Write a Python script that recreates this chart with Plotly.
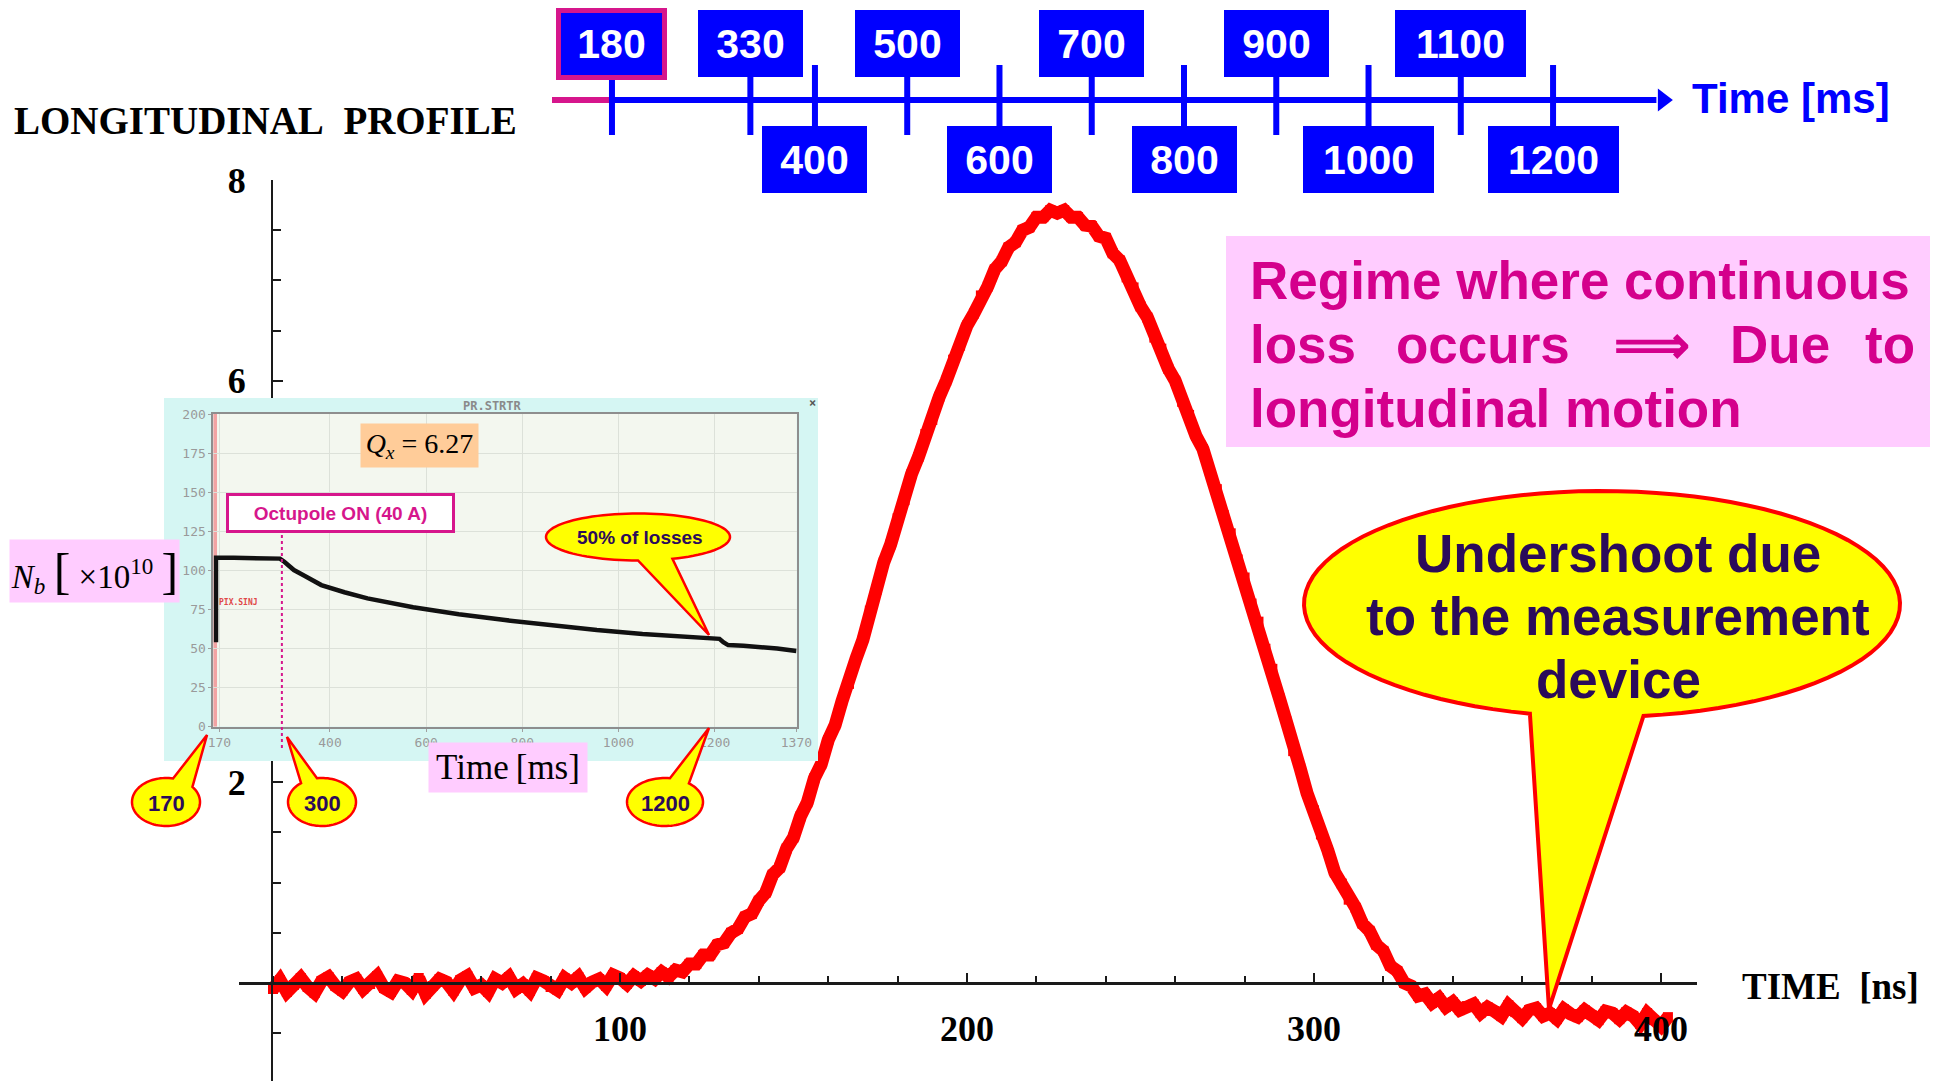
import math
import plotly.graph_objects as go

W, H = 1939, 1081

# ---------------- data ----------------
# Longitudinal bunch profile (sampled every 2 ns)
TIME_NS = list(range(0, 403, 2))
PROFILE = [
    -0.06, 0.03, -0.09, -0.02, 0.05, -0.04, -0.10, 0.02, 0.06, -0.03,
    -0.08, 0.01, 0.04, -0.06, -0.01, 0.07, -0.05, -0.09, 0.02, 0.00,
    -0.07, 0.05, -0.11, -0.03, 0.04, 0.01, -0.08, 0.03, 0.07, -0.05,
    -0.02, -0.09, 0.04, 0.00, 0.06, -0.06, -0.01, -0.08, 0.05, 0.02,
    -0.04, -0.07, 0.05, 0.00, 0.06, -0.05, 0.01, 0.04, -0.03, 0.08,
    0.05, -0.01, 0.07, 0.02, 0.08, 0.04, 0.11, 0.06, 0.13, 0.11,
    0.19, 0.19, 0.28, 0.28, 0.38, 0.40, 0.50, 0.54, 0.66, 0.69,
    0.82, 0.90, 1.08, 1.15, 1.34, 1.45, 1.66, 1.80, 2.04, 2.18,
    2.42, 2.57, 2.81, 2.98, 3.23, 3.42, 3.71, 3.92, 4.19, 4.37,
    4.63, 4.81, 5.07, 5.24, 5.47, 5.61, 5.84, 6.00, 6.21, 6.35,
    6.55, 6.67, 6.85, 6.94, 7.11, 7.19, 7.33, 7.38, 7.50, 7.53,
    7.63, 7.63, 7.70, 7.67, 7.70, 7.63, 7.63, 7.55, 7.54, 7.44,
    7.42, 7.27, 7.20, 7.03, 6.93, 6.74, 6.63, 6.43, 6.32, 6.12,
    6.00, 5.79, 5.66, 5.45, 5.32, 5.10, 4.92, 4.66, 4.48, 4.22,
    4.04, 3.78, 3.60, 3.33, 3.13, 2.84, 2.61, 2.31, 2.14, 1.89,
    1.72, 1.48, 1.32, 1.10, 0.99, 0.83, 0.75, 0.59, 0.52, 0.38,
    0.32, 0.17, 0.12, 0.00, -0.03, -0.13, -0.11, -0.20, -0.15, -0.24,
    -0.19, -0.27, -0.23, -0.21, -0.30, -0.24, -0.28, -0.33, -0.22, -0.29,
    -0.35, -0.27, -0.25, -0.33, -0.30, -0.36, -0.26, -0.31, -0.34, -0.27,
    -0.32, -0.37, -0.28, -0.30, -0.36, -0.29, -0.33, -0.41, -0.30, -0.37,
    -0.43, -0.34,
]
X_TICKS = [100, 200, 300, 400]
# the "4" label sits under the inset, so only the visible ones are labelled
Y_TICKS = [2, 6, 8]

# Beam intensity during the cycle (inset)
INSET_T = [163, 163, 200, 250, 296, 305, 325, 344, 382, 430, 478, 573, 668,
           764, 859, 955, 1050, 1146, 1200, 1210, 1218, 1228, 1260, 1291,
           1330, 1370]
INSET_N = [54, 108, 108, 107.8, 107.5, 105.5, 100.2, 97.0, 90.6, 86.0, 82.1,
           76.4, 71.9, 68.2, 64.8, 61.8, 59.3, 57.2, 56.6, 56.2, 54.0, 52.2,
           51.8, 51.2, 50.0, 48.4]
INSET_X_TICKS = [170, 400, 600, 800, 1000, 1200, 1370]
INSET_Y_TICKS = [0, 25, 50, 75, 100, 125, 150, 175, 200]
OCTUPOLE_ON_MS = 300
EVENT_MS = 161

# Timeline of the profile acquisitions
TL_UPPER = [180, 330, 500, 700, 900, 1100]
TL_LOWER = [400, 600, 800, 1000, 1200]
TL_START, TL_END, TL_ARROW = 115, 1312, 1319

# ---------------- styles ----------------
SANS = "Liberation Sans, Arial, sans-serif"
SERIF = "Liberation Serif, Times New Roman, serif"
MONO = "DejaVu Sans Mono, monospace"
RED = "#FF0000"
BLUE = "#0000FF"
MAGENTA = "#D6168C"
NAVY = "#2B0B5A"
PINK = "#FFCCFF"
YELLOW = "#FFFF00"


def px(x):
    return x / W


def py(y):
    return 1 - y / H


def callout(cx, cy, rx, ry, a1, a2, tip, lw=3, n=90):
    """Ellipse with a pointer between angles a1..a2 (degrees, screen coords)."""
    pts = []
    end = a1 + 360
    for i in range(n + 1):
        a = math.radians(a2 + (end - a2) * i / n)
        pts.append((cx + rx * math.cos(a), cy + ry * math.sin(a)))
    pts.append(tip)
    path = "M " + " L ".join(f"{px(x):.5f},{py(y):.5f}" for x, y in pts) + " Z"
    return dict(type="path", xref="paper", yref="paper", path=path,
                fillcolor=YELLOW, line=dict(color=RED, width=lw), layer="above")


def text(x, y, s, size, color="black", family=SANS, xa="center", ya="middle", **kw):
    d = dict(xref="paper", yref="paper", x=px(x), y=py(y), text=s, showarrow=False,
             xanchor=xa, yanchor=ya, font=dict(family=family, size=size, color=color))
    d.update(kw)
    return d


fig = go.Figure()

# main profile
fig.add_trace(go.Scatter(x=TIME_NS, y=PROFILE, mode="lines+markers", xaxis="x", yaxis="y",
                         line=dict(color=RED, width=13),
                         marker=dict(symbol="square", size=10, color=RED),
                         hoverinfo="skip"))
# inset frame subplot (holds only its background)
fig.add_trace(go.Scatter(x=[], y=[], xaxis="x2", yaxis="y2", hoverinfo="skip"))
# inset intensity curve
fig.add_trace(go.Scatter(x=INSET_T, y=INSET_N, mode="lines", xaxis="x3", yaxis="y3",
                         line=dict(color="#111111", width=4.5), hoverinfo="skip"))
# timeline
fig.add_trace(go.Scatter(x=[TL_START, TL_UPPER[0]], y=[0, 0], mode="lines",
                         xaxis="x4", yaxis="y4", line=dict(color=MAGENTA, width=6),
                         hoverinfo="skip"))
fig.add_trace(go.Scatter(x=[TL_UPPER[0], TL_END], y=[0, 0], mode="lines",
                         xaxis="x4", yaxis="y4", line=dict(color=BLUE, width=6),
                         hoverinfo="skip"))
fig.add_trace(go.Scatter(x=[TL_ARROW], y=[0], mode="markers", xaxis="x4", yaxis="y4",
                         marker=dict(symbol="triangle-right", size=20, color=BLUE),
                         hoverinfo="skip"))
tl_all = sorted(TL_UPPER + TL_LOWER)
fig.add_trace(go.Scatter(x=tl_all, y=[0] * len(tl_all), mode="markers",
                         xaxis="x4", yaxis="y4",
                         marker=dict(symbol="line-ns", size=50,
                                     line=dict(color=BLUE, width=6)),
                         hoverinfo="skip"))

shapes = []
annotations = []

# inset backgrounds
shapes.append(dict(type="rect", xref="x2", yref="y2", x0=0, x1=1, y0=0, y1=1,
                   fillcolor="#D5F6F3", line=dict(width=0), layer="below"))
shapes.append(dict(type="rect", xref="x3", yref="y3", x0=150, x1=1380, y0=0, y1=200,
                   fillcolor="#F3F7EF", line=dict(width=0), layer="below"))
shapes.append(dict(type="line", xref="x3", yref="y3", x0=EVENT_MS, x1=EVENT_MS,
                   y0=0, y1=200, line=dict(color="#F2A3A3", width=4), layer="below"))
# octupole switch-on marker
shapes.append(dict(type="line", xref="x3", yref="paper", x0=OCTUPOLE_ON_MS,
                   x1=OCTUPOLE_ON_MS, y0=py(748), y1=py(533),
                   line=dict(color=MAGENTA, width=2, dash="dot"), layer="above"))

# pink boxes & callouts
shapes.append(dict(type="rect", xref="paper", yref="paper", x0=px(1226), x1=px(1930),
                   y0=py(447), y1=py(236), fillcolor=PINK, line=dict(width=0),
                   layer="above"))
shapes.append(callout(1602, 604, 298, 113, 82, 104, (1549, 1009), lw=4))
shapes.append(callout(638, 537, 92, 23.5, 68, 90, (709, 635), lw=2.5))
shapes.append(callout(166, 802, 34, 24, -78, -39, (207, 735), lw=2.5))
shapes.append(callout(322, 802, 34, 24, -128, -98.5, (287, 737), lw=2.5))
shapes.append(callout(665, 802, 38, 24, -82.5, -51, (709, 728), lw=2.5))

# ---------------- texts ----------------
annotations.append(text(12, 120, "<b>LONGITUDINAL&nbsp;&nbsp;PROFILE</b>", 39,
                        family=SERIF, xa="left"))
annotations.append(text(1740, 986, "<b>TIME&nbsp;&nbsp;[ns]</b>", 37, family=SERIF,
                        xa="left"))
annotations.append(text(1690, 98, "<b>Time [ms]</b>", 42, color=BLUE, xa="left"))

# timeline boxes
for t in TL_UPPER + TL_LOWER:
    upper = t in TL_UPPER
    wide = t >= 1000
    first = t == TL_UPPER[0]
    annotations.append(dict(
        xref="x4", yref="y4", x=t, y=56.5 if upper else -59, showarrow=False,
        text=f"<b>{t}</b>", font=dict(family=SANS, size=41, color="white"),
        bgcolor=BLUE, bordercolor=MAGENTA if first else BLUE,
        borderwidth=5 if first else 2, borderpad=0,
        width=(127 if wide else 101), height=(62 if first else 63),
        xanchor="center", yanchor="middle"))

# regime box text
RC = "#D4008C"
annotations.append(text(1248, 280, "<b>Regime where continuous</b>", 53, RC, xa="left"))
annotations.append(text(1248, 344, "<b>loss</b>", 53, RC, xa="left"))
annotations.append(text(1394, 344, "<b>occurs</b>", 53, RC, xa="left"))
annotations.append(text(1612, 344, "<b>\u27f9</b>", 53, RC, xa="left"))
annotations.append(text(1728, 344, "<b>Due</b>", 53, RC, xa="left"))
annotations.append(text(1917, 344, "<b>to</b>", 53, RC, xa="right"))
annotations.append(text(1248, 408, "<b>longitudinal motion</b>", 53, RC, xa="left"))

# undershoot callout text
for yy, s in zip([553, 616, 679], ["Undershoot due", "to the measurement", "device"]):
    annotations.append(text(1618, yy, f"<b>{s}</b>", 53, NAVY))

# inset texts
annotations.append(text(492, 406, "<b>PR.STRTR</b>", 12, "#8A8A8A", family=MONO))
annotations.append(text(812, 403, "<b>\u00d7</b>", 12, "#555555", family=MONO))
annotations.append(text(217, 602, "<b>PIX.SINJ</b>", 8, "#E04848", family=MONO, xa="left"))
annotations.append(text(340.5, 513, "<b>Octupole ON (40 A)</b>", 19, MAGENTA,
                        bgcolor="white", bordercolor=MAGENTA, borderwidth=3,
                        borderpad=0, width=223, height=34))
annotations.append(text(419.5, 445.5, "<i>Q</i><sub><i>x</i></sub> = 6.27", 28,
                        family=SERIF, bgcolor="#FFCC99", borderpad=0,
                        width=117, height=43))
annotations.append(text(640, 537, "<b>50% of losses</b>", 19, NAVY))
annotations.append(text(166, 803, "<b>170</b>", 22, NAVY))
annotations.append(text(322, 803, "<b>300</b>", 22, NAVY))
annotations.append(text(665, 803, "<b>1200</b>", 22, NAVY))

annotations.append(text(94.5, 571,
                        "<i>N</i><sub><i>b</i></sub> <span style='font-size:50px'>[</span>"
                        " \u00d710<sup>10</sup> <span style='font-size:50px'>]</span>",
                        33, family=SERIF, bgcolor=PINK, borderpad=0,
                        width=169, height=62))
annotations.append(text(508, 767, "Time\u2009[ms]", 35, family=SERIF, bgcolor=PINK,
                        borderpad=0, width=158, height=49))

# ---------------- axes ----------------
X0_PX, NS_PX = 273, 3.47
Y0_PX, UNIT_PX = 983, 100.375
xr = [(239 - X0_PX) / NS_PX, (1697 - X0_PX) / NS_PX]
yr = [(Y0_PX - H) / UNIT_PX, 8]

serif_tick = dict(family=SERIF, size=36, color="black", weight="bold")

# timeline mapping
TL_T0_PX, TL_SCALE = 445.9, 0.92263

inset_axis = dict(tickmode="array", tickfont=dict(family=MONO, size=13, color="#9A9A9A"),
                  ticks="outside", ticklen=3, tickcolor="#A0A0A0",
                  showgrid=True, gridcolor="#DCE1D9", gridwidth=1,
                  showline=True, mirror=True, linecolor="#8E8E8E", linewidth=2,
                  zeroline=False, fixedrange=True, automargin=False)

fig.update_layout(
    width=W, height=H, autosize=False,
    margin=dict(l=0, r=0, t=0, b=0, pad=0, autoexpand=False),
    paper_bgcolor="white", plot_bgcolor="rgba(0,0,0,0)", showlegend=False,
    xaxis=dict(domain=[px(239), px(1697)], range=xr, anchor="free",
               position=(H - Y0_PX) / H, showline=True, linecolor="#1a1a1a",
               linewidth=3, ticks="inside", ticklen=9, tickwidth=2,
               tickcolor="#1a1a1a", tickmode="array", tickvals=X_TICKS,
               ticktext=[str(v) for v in X_TICKS], tickfont=serif_tick,
               ticklabelstandoff=13, showgrid=False, zeroline=False,
               automargin=False,
               minor=dict(ticks="inside", ticklen=6, tickwidth=2, tickcolor="#1a1a1a",
                          tickmode="linear", tick0=0, dtick=20, showgrid=False),
               fixedrange=True),
    yaxis=dict(domain=[0, py(180)], range=yr, anchor="free", position=px(272),
               showline=True, linecolor="#1a1a1a", linewidth=2, ticks="inside",
               ticklen=10, tickwidth=2, tickcolor="#1a1a1a", tickmode="array",
               tickvals=Y_TICKS, ticktext=[str(v) for v in Y_TICKS],
               tickfont=serif_tick, ticklabelstandoff=18, showgrid=False,
               zeroline=False, automargin=False,
               minor=dict(ticks="inside", ticklen=8, tickwidth=2, tickcolor="#1a1a1a",
                          tickmode="linear", tick0=0, dtick=0.5, showgrid=False),
               fixedrange=True),
    xaxis2=dict(domain=[px(164), px(818)], range=[0, 1], anchor="y2", visible=False,
                fixedrange=True, automargin=False),
    yaxis2=dict(domain=[py(761), py(398)], range=[0, 1], anchor="x2", visible=False,
                fixedrange=True, automargin=False),
    xaxis3=dict(domain=[px(213.4), px(796.7)], range=[157.6, 1370.6], anchor="y3",
                tickvals=INSET_X_TICKS, ticktext=[str(v) for v in INSET_X_TICKS],
                **inset_axis),
    yaxis3=dict(domain=[py(726.7), py(414)], range=[0, 200], anchor="x3",
                tickvals=INSET_Y_TICKS, ticktext=[str(v) for v in INSET_Y_TICKS],
                **inset_axis),
    xaxis4=dict(domain=[0, 1], range=[-TL_T0_PX / TL_SCALE, (W - TL_T0_PX) / TL_SCALE],
                anchor="y4", visible=False, fixedrange=True, automargin=False),
    yaxis4=dict(domain=[py(216.2), 1], range=[-116.2, 100], anchor="x4",
                visible=False, fixedrange=True, automargin=False),
    shapes=shapes,
    annotations=annotations,
)

fig.write_html("out.html", config={"displayModeBar": False, "staticPlot": True})
